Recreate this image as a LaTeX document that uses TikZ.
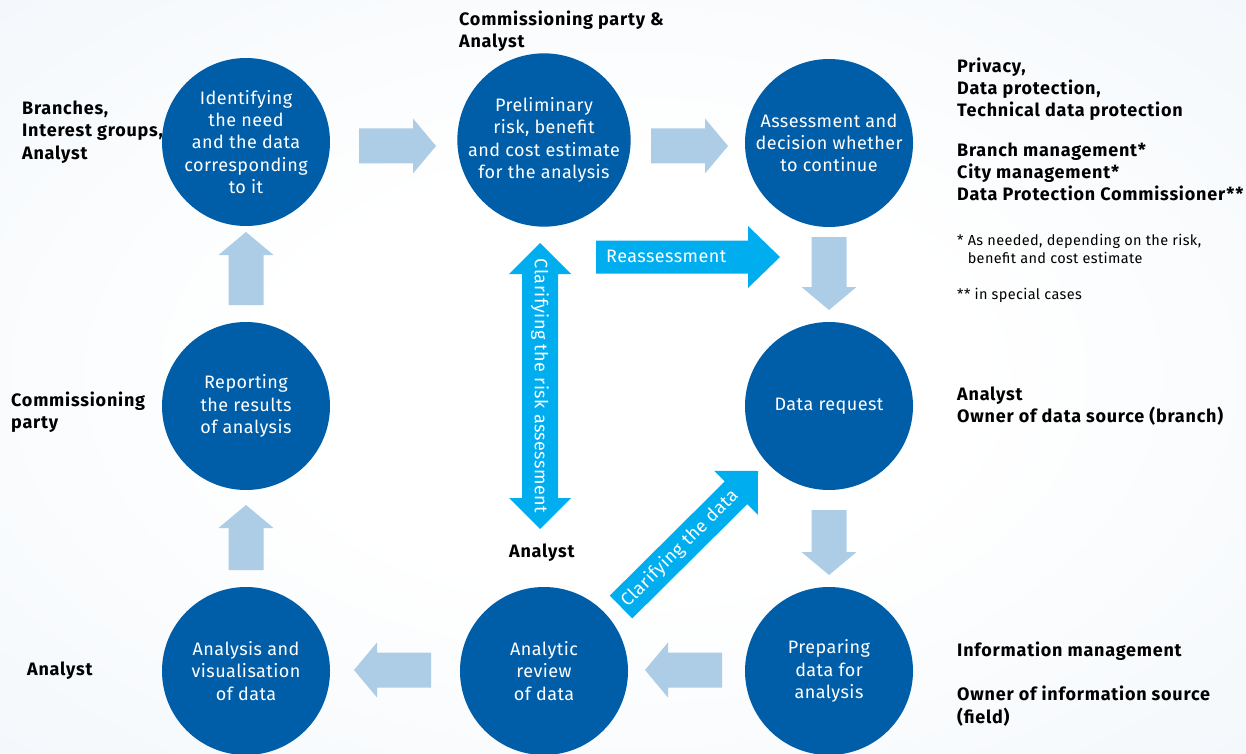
\documentclass[tikz,border=0pt]{standalone}
\usepackage{fontspec}
\setmainfont{Fira Sans}[LetterSpace=2.5, BoldFeatures={LetterSpace=4.3}]
\usetikzlibrary{calc}

\definecolor{circblue}{HTML}{005EA8}
\definecolor{paleblue}{HTML}{ADCDE6}
\definecolor{cyanblue}{HTML}{00AEEF}
\definecolor{bgblue}{HTML}{E1ECF6}

\pgfdeclareradialshading{bgshade}{\pgfpoint{0bp}{0bp}}{%
  color(0bp)=(white); color(14bp)=(white); color(72bp)=(bgblue)}

% single block arrow: style, tail, tip, body half width, head half width, head length (pt)
\newcommand\blockarrow[6]{%
  \coordinate (bahead) at ($(#3)!#6pt!(#2)$);
  \fill[#1] ($(#2)!#4pt!90:(#3)$) -- ($(bahead)!#4pt!90:(#3)$) -- ($(bahead)!#5pt!90:(#3)$)
    -- (#3) -- ($(bahead)!#5pt!-90:(#3)$) -- ($(bahead)!#4pt!-90:(#3)$)
    -- ($(#2)!#4pt!-90:(#3)$) -- cycle;
}
% double block arrow: style, end A, end B, body half width, head half width, head length (pt)
\newcommand\dblblockarrow[6]{%
  \coordinate (dbha) at ($(#2)!#6pt!(#3)$);
  \coordinate (dbhb) at ($(#3)!#6pt!(#2)$);
  \fill[#1] (#2) -- ($(dbha)!#5pt!90:(#3)$) -- ($(dbha)!#4pt!90:(#3)$)
    -- ($(dbhb)!#4pt!90:(#3)$) -- ($(dbhb)!#5pt!90:(#3)$) -- (#3)
    -- ($(dbhb)!#5pt!-90:(#3)$) -- ($(dbhb)!#4pt!-90:(#3)$)
    -- ($(dbha)!#4pt!-90:(#3)$) -- ($(dbha)!#5pt!-90:(#3)$) -- cycle;
}

\tikzset{
  circ/.style={circle, fill=circblue, text=white, minimum size=168pt, inner sep=0pt,
    align=center, font=\fontsize{18}{22.3}\selectfont},
  lbl/.style={anchor=west, align=left, inner sep=0pt,
    font=\fontsize{18}{22.3}\selectfont\bfseries},
  note/.style={anchor=west, align=left, inner sep=0pt,
    font=\fontsize{14.5}{18}\selectfont},
  arrowtext/.style={text=white, inner sep=0pt, font=\fontsize{18}{20}\selectfont},
  pale/.style={fill=paleblue},
  bright/.style={fill=cyanblue},
}

\begin{document}
\begin{tikzpicture}[x=1pt,y=-1pt]
\useasboundingbox (0,0) rectangle (1246,754);
\shade[shading=bgshade] (0,0) rectangle (1246,754);

% process steps
\node[circ] (c1) at (246,142) {Identifying\\the need\\and the data\\corresponding\\to it};
\node[circ] (c2) at (544,140) {Preliminary\\risk, benefit\\and cost estimate\\for the analysis};
\node[circ] (c3) at (829,143) {Assessment and\\decision whether\\to continue};
\node[circ] (c4) at (829,406) {Data request};
\node[circ] (c5) at (246,406) {Reporting\\the results\\of analysis};
\node[circ] (c6) at (246,671) {Analysis and\\visualisation\\of data};
\node[circ] (c7) at (544,671) {Analytic\\review\\of data};
\node[circ] (c8) at (829,671) {Preparing\\data for\\analysis};

% ends of the flow arrows
\coordinate (a12t) at (359,146); \coordinate (a12h) at (436,146);
\coordinate (a23t) at (651,146); \coordinate (a23h) at (728,146);
\coordinate (a34t) at (829,237); \coordinate (a34h) at (829,310);
\coordinate (a48t) at (829,510); \coordinate (a48h) at (829,575);
\coordinate (a87t) at (722,670); \coordinate (a87h) at (645,670);
\coordinate (a76t) at (431,670); \coordinate (a76h) at (354,670);
\coordinate (a65t) at (246,570); \coordinate (a65h) at (246,505);
\coordinate (a51t) at (246,305); \coordinate (a51h) at (246,232);

\blockarrow{pale}{a12t}{a12h}{17.5}{27.5}{23}
\blockarrow{pale}{a23t}{a23h}{17.5}{27.5}{23}
\blockarrow{pale}{a34t}{a34h}{17.5}{27.5}{23}
\blockarrow{pale}{a48t}{a48h}{17.5}{27.5}{23}
\blockarrow{pale}{a87t}{a87h}{17.5}{27.5}{23}
\blockarrow{pale}{a76t}{a76h}{17.5}{27.5}{23}
\blockarrow{pale}{a65t}{a65h}{17.5}{27.5}{23}
\blockarrow{pale}{a51t}{a51h}{17.5}{27.5}{23}

% feedback arrows
\coordinate (reat) at (596,257); \coordinate (reah) at (780,257);
\blockarrow{bright}{reat}{reah}{16.5}{31}{32}
\node[arrowtext, anchor=west] (reatext) at (606,256) {Reassessment};

\coordinate (riska) at (540,243); \coordinate (riskb) at (540,529);
\dblblockarrow{bright}{riska}{riskb}{18}{31}{31}
\node[arrowtext, rotate=-90] (risktext) at ($(riska)!0.5!(riskb)$) {Clarifying the risk assessment};

\coordinate (datat) at (621,607); \coordinate (datah) at (758,471);
\blockarrow{bright}{datat}{datah}{16}{31}{31}
\node[arrowtext, rotate=45] (datatext) at ($(datat)!0.43!(datah)$) {Clarifying the data};

% roles
\node[lbl] (r1) at (22,132) {Branches,\\Interest groups,\\Analyst};
\node[lbl] (r2) at (459,31) {Commissioning party \&\\Analyst};
\node[lbl] (r3) at (957,89) {Privacy,\\Data protection,\\Technical data protection};
\node[lbl] (r4) at (957,172) {Branch management*\\City management*\\Data Protection Commissioner**};
\node[note] (n1) at (957,249) {*\ As needed, depending on the risk,\\\phantom{*\ }benefit and cost estimate};
\node[note] (n2) at (957,295) {** in special cases};
\node[lbl] (r5) at (957,406) {Analyst\\Owner of data source (branch)};
\node[lbl] (r6) at (11,412) {Commissioning\\party};
\node[lbl] (r7) at (509,553) {Analyst};
\node[lbl] (r8) at (27,671) {Analyst};
\node[lbl] (r9) at (957,651) {Information management};
\node[lbl] (r10) at (957,706) {Owner of information source\\(field)};
\end{tikzpicture}
\end{document}
